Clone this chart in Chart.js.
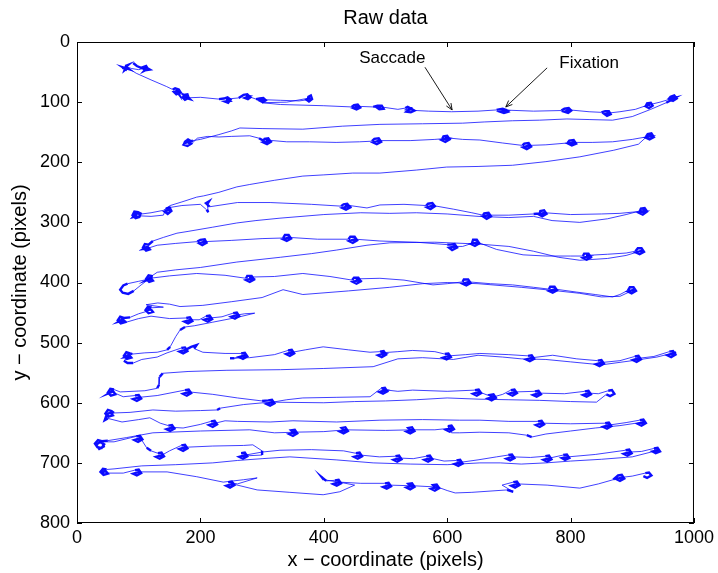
<!DOCTYPE html>
<html>
<head>
<meta charset="utf-8">
<script src="https://cdn.jsdelivr.net/npm/chart.js@4"></script>
<style>
  body { margin: 0; background: #fff; }
  #wrap { width: 718px; height: 573px; }
</style>
</head>
<body>
<div id="wrap"><canvas id="chart"></canvas></div>
<script>
// gaze samples [x, y] in screen pixels, one array per text line / return sweep
const row1 = [[91,35],[97,40],[104,43],[106,42],[112,40],[115,45],[109,48],[113,43],[118,46],[111,47],[107,44],[114,42],[100,46],[88,44],[78,40],[83,38],[76,44],[81,47],[74,42],[84,45],[79,41],[77,47],[82,43],[96,52],[120,63],[145,74],[155,79],[159,77],[165,79],[168,84],[161,87],[157,83],[164,81],[166,88],[160,80],[170,86],[173,88],[179,87],[181,93],[175,96],[171,92],[178,90],[183,95],[176,93],[200,92],[230,95],[238,94],[244,92],[249,96],[245,101],[240,99],[247,98],[242,95],[262,93],[270,88],[276,87],[281,92],[277,95],[272,93],[279,90],[274,89],[290,95],[296,94],[302,93],[306,97],[301,100],[297,98],[304,96],[330,97],[360,98],[374,96],[375,91],[379,89],[381,95],[376,99],[372,96],[378,93],[340,100],[300,101],[330,104],[400,106],[445,108],[449,105],[455,104],[459,109],[453,112],[448,110],[456,107],[480,108],[487,106],[494,106],[497,111],[490,112],[486,109],[493,108],[520,112],[532,110],[536,108],[542,111],[547,114],[541,117],[534,116],[539,112],[544,110],[531,113],[570,115],[607,116],[650,115],[680,113],[684,112],[690,111],[696,113],[699,116],[692,118],[686,116],[694,114],[688,113],[740,115],[785,114],[790,111],[797,110],[801,114],[796,118],[790,116],[799,113],[830,116],[850,117],[856,115],[862,115],[865,120],[859,123],[855,120],[863,118],[880,116],[905,112],[922,106],[924,102],[930,101],[933,106],[927,110],[922,107],[929,104],[945,100],[958,96],[962,91],[968,89],[972,94],[966,98],[961,95],[969,93],[964,96]];
const sweep1 = [[955,101],[930,112],[900,124],[868,130],[830,129],[794,128],[750,130],[706,131],[660,133],[625,135],[560,136],[491,137],[430,140],[366,145],[300,144],[264,143],[250,148],[230,154],[215,158],[200,162],[188,164],[185,165],[180,162],[175,166],[173,171],[179,173],[185,169],[181,166],[175,168],[178,164],[184,171]];
const row2 = [[195,160],[212,157],[230,158],[250,157],[280,156],[295,160],[302,164],[304,161],[310,160],[314,166],[308,170],[302,167],[311,165],[306,163],[340,166],[377,166],[420,167],[458,166],[478,165],[482,161],[489,160],[493,166],[486,170],[480,167],[490,164],[540,164],[580,162],[592,161],[594,157],[600,156],[604,162],[597,166],[591,163],[601,160],[596,159],[625,162],[653,163],[690,168],[722,172],[725,169],[732,168],[736,174],[729,178],[723,175],[733,172],[760,171],[795,168],[798,164],[805,163],[809,169],[802,172],[796,169],[806,167],[835,167],[868,166],[900,162],[922,158],[925,153],[931,152],[935,158],[928,162],[922,159],[931,156],[926,155]];
const sweep2 = [[910,170],[870,180],[815,191],[760,199],[706,205],[650,207],[599,208],[550,213],[491,218],[447,218],[400,221],[366,223],[320,230],[280,237],[259,241],[230,250],[205,256],[194,258],[170,266],[151,272],[140,280],[120,284],[105,286],[99,283],[93,282],[90,288],[95,293],[101,291],[103,286],[96,285],[91,291],[98,289]];
const row3 = [[120,290],[140,288],[144,277],[150,275],[153,281],[147,286],[142,282],[150,279],[146,276],[170,272],[200,270],[210,279],[213,283],[211,270],[214,265],[209,268],[215,274],[260,267],[313,267],[380,270],[428,273],[432,270],[438,269],[443,275],[436,279],[430,276],[440,273],[435,271],[470,276],[491,271],[530,270],[566,272],[569,269],[576,268],[580,273],[573,278],[567,275],[577,272],[610,278],[640,284],[658,288],[660,285],[667,284],[671,290],[664,294],[658,290],[668,288],[700,288],[740,286],[750,285],[751,281],[757,280],[761,286],[754,290],[749,287],[758,284],[800,287],[850,286],[880,285],[900,283],[912,282],[914,277],[920,276],[924,282],[917,287],[911,284],[921,281],[916,280]];
const sweep3 = [[890,287],[860,294],[815,300],[770,297],[740,290],[700,292],[650,290],[600,286],[550,284],[507,285],[460,284],[400,287],[329,293],[290,297],[259,301],[220,308],[180,315],[162,318],[140,325],[123,331],[116,337],[110,336],[107,342],[112,347],[118,345],[114,340],[108,344],[115,343]];
const row4 = [[130,338],[160,335],[195,332],[200,329],[207,328],[210,334],[203,338],[198,335],[207,332],[250,330],[300,327],[334,326],[337,321],[343,321],[347,327],[340,331],[334,328],[344,325],[390,328],[440,328],[443,324],[450,324],[454,330],[447,334],[441,331],[451,328],[491,331],[550,333],[600,337],[605,337],[612,336],[616,342],[608,346],[603,342],[613,340],[625,340],[640,335],[642,329],[648,329],[652,335],[645,339],[639,336],[649,333],[680,345],[723,354],[760,356],[800,356],[820,356],[822,352],[829,352],[833,358],[826,362],[820,359],[830,356],[825,355],[860,353],[890,351],[905,348],[909,343],[915,343],[919,349],[912,353],[906,350],[916,347]];
const sweep4 = [[890,355],[860,360],[815,363],[780,358],[740,348],[700,340],[650,336],[580,333],[507,334],[470,338],[421,346],[380,352],[330,358],[259,366],[200,375],[160,379],[130,383],[120,390],[121,389],[116,388],[112,394],[117,399],[123,397],[119,392],[113,396],[122,393]];
const row5 = [[100,398],[82,402],[75,405],[70,412],[74,417],[83,419],[92,414],[104,404],[118,393],[150,389],[194,385],[240,388],[274,393],[276,389],[283,389],[287,395],[280,399],[274,396],[284,393],[279,391],[320,390],[366,385],[410,390],[446,396],[449,392],[456,392],[460,398],[453,402],[447,399],[457,396],[452,394],[491,393],[530,396],[577,404],[600,402],[625,399],[627,395],[634,395],[638,401],[631,405],[625,402],[635,399],[670,402],[706,404],[740,408],[765,411],[767,407],[774,407],[778,413],[771,417],[765,414],[775,411],[810,416],[840,420],[868,424],[880,420],[893,413],[896,408],[902,408],[906,414],[899,418],[893,415],[903,412]];
const sweep5 = [[880,423],[850,424],[815,418],[770,413],[720,408],[650,402],[600,400],[560,402],[507,408],[440,414],[366,420],[334,412],[300,425],[250,432],[204,438],[167,440],[150,436],[131,434],[112,437],[140,441],[121,442],[115,440],[111,446],[116,451],[123,449],[119,444],[113,448],[100,452],[86,458],[76,459],[70,457],[66,463],[71,468],[78,466],[74,461],[68,465],[75,463]];
const row6 = [[80,466],[100,460],[120,456],[150,460],[177,459],[183,458],[187,464],[180,468],[174,465],[184,462],[198,462],[209,456],[215,455],[219,461],[212,465],[206,462],[216,459],[235,457],[253,451],[259,450],[263,456],[256,460],[250,457],[260,454],[272,452],[288,451],[260,458],[220,466],[190,472],[175,474],[167,479],[160,490],[151,507],[146,512],[130,516]];
const row7 = [[110,517],[90,519],[86,518],[80,516],[76,522],[81,527],[88,525],[84,520],[78,524],[85,523],[76,530],[82,534],[91,534],[105,528],[130,524],[146,517],[169,509],[175,508],[179,514],[172,518],[166,515],[176,512],[185,507],[194,504],[190,510],[204,516],[240,518],[266,518],[272,517],[276,523],[269,527],[263,524],[273,521],[255,526],[248,526],[280,525],[320,520],[342,513],[348,512],[352,518],[345,522],[339,519],[349,516],[370,512],[399,507],[440,512],[475,516],[491,515],[497,514],[501,520],[494,524],[488,521],[498,518],[493,517],[520,515],[544,513],[580,515],[596,519],[602,518],[606,524],[599,528],[593,525],[603,522],[630,520],[653,518],[700,520],[731,522],[737,521],[741,527],[734,531],[728,528],[738,525],[771,521],[810,527],[844,530],[850,529],[854,535],[847,539],[841,536],[851,533],[880,530],[904,523],[910,522],[914,528],[907,532],[901,529],[911,526],[935,523],[960,515],[966,514],[970,520],[963,524],[957,521],[967,518],[971,516]];
const sweep7 = [[940,524],[900,530],[850,537],[800,532],[760,528],[720,527],[690,524],[650,521],[610,528],[560,525],[520,527],[480,540],[400,543],[330,545],[243,546],[180,548],[139,551],[134,557],[133,570],[130,576],[110,580],[70,582]];
const row8 = [[60,578],[54,577],[50,583],[55,588],[62,586],[58,580],[52,584],[57,582],[75,590],[94,588],[100,587],[104,593],[97,597],[91,594],[101,591],[130,588],[175,579],[181,578],[185,584],[178,588],[172,585],[182,582],[220,586],[260,592],[300,597],[310,596],[316,595],[320,601],[313,605],[307,602],[317,599],[340,595],[366,592],[420,591],[475,590],[493,576],[499,575],[503,581],[496,585],[490,582],[500,579],[495,578],[520,581],[544,579],[600,581],[645,579],[651,578],[655,584],[648,588],[642,585],[652,582],[672,590],[669,587],[675,586],[679,592],[672,596],[666,593],[676,590],[690,586],[703,579],[709,578],[713,584],[706,588],[700,585],[710,582],[742,581],[748,580],[752,586],[745,590],[739,587],[749,584],[790,585],[823,581],[829,580],[833,586],[826,590],[820,587],[830,584],[845,585],[861,580],[867,579],[871,585],[864,589],[858,586]];
const sweep8 = [[842,599],[800,598],[750,596],[700,595],[650,594],[600,592],[550,595],[500,597],[450,598],[400,600],[313,599],[270,603],[232,609],[227,612],[200,613],[160,614],[123,612],[86,616],[60,617],[56,614],[50,612],[46,618],[51,623],[58,621],[54,616],[48,620],[45,629],[50,626],[73,632],[100,628],[118,625]];
const row9 = [[135,634],[148,638],[154,637],[158,643],[151,647],[145,644],[155,641],[172,642],[200,636],[217,631],[223,630],[227,636],[220,640],[214,637],[224,634],[240,630],[260,631],[313,632],[350,630],[421,632],[491,629],[560,628],[620,629],[653,629],[700,631],[747,631],[753,630],[757,636],[750,640],[744,637],[754,634],[800,635],[856,634],[862,633],[866,639],[859,643],[853,640],[863,637],[890,633],[912,629],[918,628],[922,634],[915,638],[909,635],[919,632]];
const sweep9 = [[880,638],[840,642],[800,647],[760,652],[737,657],[729,654],[700,650],[653,649],[620,650],[607,650],[601,639],[607,638],[611,644],[604,648],[598,645],[608,642],[580,645],[540,645],[537,642],[543,641],[547,647],[540,651],[534,648],[544,645],[500,646],[432,645],[429,642],[435,641],[439,647],[432,651],[426,648],[436,645],[400,648],[350,649],[347,646],[353,645],[357,651],[350,655],[344,652],[354,649],[320,650],[280,645],[200,647],[123,650],[80,658],[50,663],[40,664],[34,662],[29,668],[33,674],[40,675],[44,669],[38,665],[31,670],[36,677],[45,672],[35,665]];
const row10 = [[60,665],[96,656],[102,655],[106,661],[99,665],[93,662],[103,659],[113,675],[120,680],[131,684],[137,683],[141,689],[134,693],[128,690],[138,687],[150,680],[169,671],[175,670],[179,676],[172,680],[166,677],[176,674],[220,672],[270,671],[285,670],[300,680],[300,687],[280,688],[266,684],[272,683],[276,689],[269,693],[263,690],[273,687],[300,682],[329,679],[380,678],[432,680],[452,684],[458,683],[462,689],[455,693],[449,690],[459,687],[490,690],[516,689],[522,688],[526,694],[519,698],[513,695],[523,692],[545,693],[566,689],[572,688],[576,694],[569,698],[563,695],[573,692],[595,697],[615,696],[621,695],[625,701],[618,705],[612,702],[622,699],[650,695],[680,690],[699,687],[705,686],[709,692],[702,696],[696,693],[706,690],[735,691],[759,689],[765,688],[769,694],[762,698],[756,695],[766,692],[788,687],[794,686],[798,692],[791,695],[786,692],[796,690],[840,686],[889,679],[895,678],[899,684],[892,688],[886,685],[896,682],[915,681],[935,676],[941,675],[945,681],[938,684],[933,681],[942,679]];
const sweep10 = [[900,690],[850,694],[800,697],[760,700],[720,702],[686,700],[653,700],[600,703],[540,702],[480,700],[420,695],[345,690],[300,693],[260,696],[220,700],[160,703],[105,705],[60,710],[48,711],[42,710],[38,715],[43,720],[50,718],[46,713],[40,717]];
const row11 = [[75,717],[94,712],[100,711],[104,717],[97,721],[91,718],[101,715],[146,715],[194,723],[237,732],[270,728],[292,725],[260,735],[245,732],[251,731],[255,737],[248,741],[242,738],[252,735],[292,745],[345,749],[399,753],[426,748],[450,737],[430,733],[400,728],[397,724],[404,730],[418,729],[424,728],[428,734],[421,738],[415,735],[425,732],[460,734],[499,734],[505,733],[509,739],[502,743],[496,740],[506,737],[540,738],[537,735],[543,734],[547,740],[540,744],[534,741],[544,738],[580,740],[577,737],[583,736],[587,742],[580,746],[574,743],[584,740],[600,746],[613,750],[640,749],[697,745],[707,748],[689,737],[707,732],[713,731],[717,737],[710,741],[704,738],[714,735],[762,737],[815,742],[845,735],[869,728],[877,721],[883,720],[887,726],[880,730],[874,727],[884,724],[900,722],[921,717],[927,716],[931,721],[924,725],[918,722]];

const xTicks = [0, 200, 400, 600, 800, 1000];
const yTicks = [0, 100, 200, 300, 400, 500, 600, 700, 800];

const chartTitle = 'Raw data';
const xLabel = 'x \u2212 coordinate (pixels)';
const yLabel = 'y \u2212 coordinate (pixels)';

// callouts: text position, arrow start, arrow tip (data units)
const notes = [
    {text: 'Saccade', at: [511, 27], from: [564, 42], to: [608, 113]},
    {text: 'Fixation', at: [830, 35], from: [762, 43], to: [695, 108]}
];

const FONT = '"Liberation Sans", Arial, Helvetica, sans-serif';
Chart.defaults.font.family = FONT;
Chart.defaults.color = '#000';

const trace = [].concat(row1, sweep1, row2, sweep2, row3, sweep3, row4, sweep4,
    row5, sweep5, row6, row7, sweep7, row8, sweep8, row9, sweep9, row10, sweep10, row11)
    .map(p => ({x: p[0], y: p[1]}));

// short hops between samples are the fixation jitter; draw them a bit heavier
const isShort = c => Math.hypot(c.p1.x - c.p0.x, c.p1.y - c.p0.y) < 6.5;

const drawArrow = (ctx, x1, y1, x2, y2) => {
    const ang = Math.atan2(y2 - y1, x2 - x1);
    const head = 7;
    ctx.beginPath();
    ctx.moveTo(x1, y1);
    ctx.lineTo(x2, y2);
    ctx.moveTo(x2 - head * Math.cos(ang - 0.4), y2 - head * Math.sin(ang - 0.4));
    ctx.lineTo(x2, y2);
    ctx.lineTo(x2 - head * Math.cos(ang + 0.4), y2 - head * Math.sin(ang + 0.4));
    ctx.stroke();
};

// box, inward ticks on all four sides, title and callouts
const matlabFrame = {
    id: 'matlabFrame',
    afterDatasetsDraw(chart) {
        const {ctx, chartArea: a, scales: {x, y}} = chart;
        const tl = 5;
        ctx.save();
        ctx.strokeStyle = '#000';
        ctx.lineWidth = 1;
        ctx.strokeRect(a.left + 0.5, a.top + 0.5, a.right - a.left - 1, a.bottom - a.top - 1);
        ctx.beginPath();
        xTicks.forEach(v => {
            const px = Math.round(x.getPixelForValue(v)) + 0.5;
            ctx.moveTo(px, a.bottom); ctx.lineTo(px, a.bottom - tl);
            ctx.moveTo(px, a.top); ctx.lineTo(px, a.top + tl);
        });
        yTicks.forEach(v => {
            const py = Math.round(y.getPixelForValue(v)) + 0.5;
            ctx.moveTo(a.left, py); ctx.lineTo(a.left + tl, py);
            ctx.moveTo(a.right, py); ctx.lineTo(a.right - tl, py);
        });
        ctx.stroke();

        ctx.fillStyle = '#000';
        ctx.textAlign = 'center';
        ctx.textBaseline = 'middle';
        ctx.font = '17px ' + FONT;
        ctx.lineWidth = 0.9;
        notes.forEach(n => {
            ctx.fillText(n.text, x.getPixelForValue(n.at[0]), y.getPixelForValue(n.at[1]));
            drawArrow(ctx, x.getPixelForValue(n.from[0]), y.getPixelForValue(n.from[1]),
                x.getPixelForValue(n.to[0]), y.getPixelForValue(n.to[1]));
        });

        ctx.font = '20px ' + FONT;
        ctx.fillText(chartTitle, (a.left + a.right) / 2, 18);
        ctx.restore();
    }
};

new Chart(document.getElementById('chart'), {
    type: 'scatter',
    data: {
        datasets: [{
            data: trace,
            showLine: true,
            borderColor: 'rgba(0, 0, 255, 0.75)',
            borderWidth: 1,
            pointRadius: 0,
            tension: 0,
            segment: {
                borderWidth: c => isShort(c) ? 2.4 : 1,
                borderColor: c => isShort(c) ? 'rgba(0, 0, 255, 0.95)' : 'rgba(0, 0, 255, 0.75)'
            }
        }]
    },
    options: {
        responsive: true,
        maintainAspectRatio: false,
        animation: false,
        layout: {padding: {top: 42, right: 24, left: 0, bottom: 0}},
        plugins: {legend: {display: false}, tooltip: {enabled: false}},
        scales: {
            x: {
                type: 'linear', min: 0, max: 1000,
                afterBuildTicks: s => { s.ticks = xTicks.map(v => ({value: v})); },
                ticks: {font: {size: 18}, padding: 4, maxRotation: 0, callback: v => String(v)},
                grid: {display: false, drawTicks: false},
                border: {display: false},
                title: {display: true, text: xLabel, font: {size: 20}, padding: {top: 0, bottom: 1}},
                afterFit: s => { s.height = 50; }
            },
            y: {
                type: 'linear', min: 0, max: 800, reverse: true,
                afterBuildTicks: s => { s.ticks = yTicks.map(v => ({value: v})); },
                ticks: {font: {size: 18}, padding: 7, callback: v => String(v)},
                grid: {display: false, drawTicks: false},
                border: {display: false},
                title: {display: true, text: yLabel, font: {size: 20}, padding: {top: 8, bottom: 0}},
                afterFit: s => { s.width = 77; }
            }
        }
    },
    plugins: [matlabFrame]
});
</script>
</body>
</html>
